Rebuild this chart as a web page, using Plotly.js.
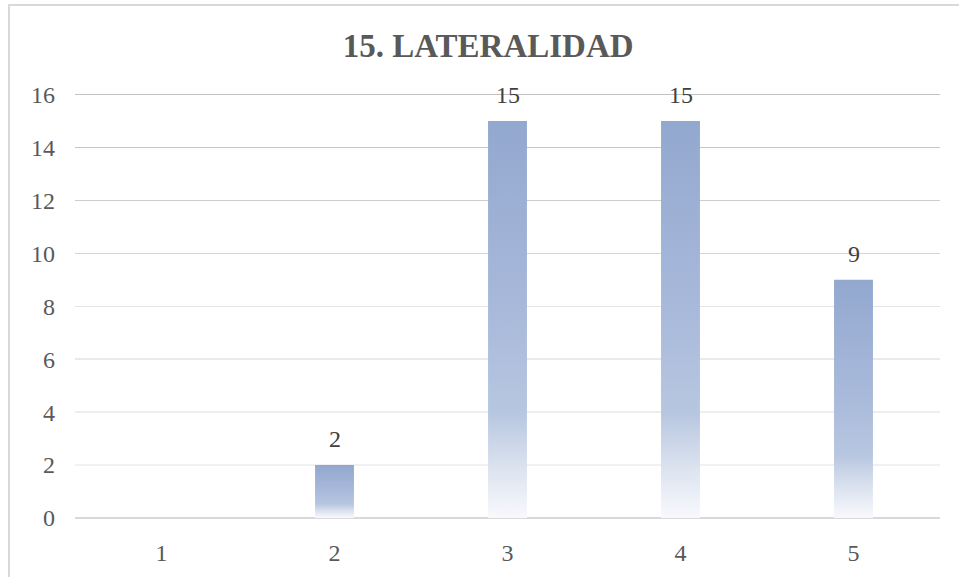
<!DOCTYPE html>
<html>
<head>
<meta charset="utf-8">
<script src="https://cdn.plot.ly/plotly-3.0.1.min.js"></script>
<style>
  html, body { margin: 0; padding: 0; background: #ffffff; }
  #frame { position: absolute; left: 8px; top: 4px; width: 960px; height: 580px;
           border-left: 2px solid #d9d9d9; border-top: 2px solid #d9d9d9; box-sizing: border-box; }
  #chart { position: absolute; left: 0; top: 0; width: 959px; height: 577px; }
</style>
</head>
<body>
<div id="frame"></div>
<div id="chart"></div>
<script>
// ---- data ----
const titleText = "15. LATERALIDAD";
const categories = ["1", "2", "3", "4", "5"];
const counts = [0, 2, 15, 15, 9];
const yTickValues = [0, 2, 4, 6, 8, 10, 12, 14, 16];

// ---- styles ----
const serif = "Liberation Serif";
const gridColors = ["#d9d9d9", "#f1f1f1", "#eeeeee", "#eaeaea", "#e4e4e4", "#d6d6d6", "#cdcdcd", "#c7c7c7", "#c2c2c2"];

const trace = {
  type: "bar",
  x: categories,
  y: counts,
  marker: { color: "#93a8cf", line: { width: 0 } },
  hoverinfo: "x+y"
};

// data labels above bars (value 0 has no label); x is the category index
const labelAnnotations = counts
  .map((v, i) => ({ i, v }))
  .filter(d => d.v)
  .map(d => ({
    x: d.i, y: d.v, xref: "x", yref: "y",
    text: String(d.v), showarrow: false,
    xanchor: "center", yanchor: "bottom", yshift: 11,
    font: { family: serif, size: 24, color: "#404040" }
  }));

const layout = {
  width: 959,
  height: 577,
  margin: { l: 75, r: 19, t: 92, b: 59 },
  font: { family: serif },
  paper_bgcolor: "rgba(0,0,0,0)",
  plot_bgcolor: "rgba(0,0,0,0)",
  showlegend: false,
  bargap: 0.775,
  annotations: labelAnnotations,
  title: {
    text: titleText,
    font: { family: serif, size: 33, color: "#595959", weight: "bold" },
    xref: "container", x: 0.509, xanchor: "center",
    yref: "container", y: 1 - 45 / 577, yanchor: "middle"
  },
  xaxis: {
    type: "category",
    categoryarray: categories,
    showgrid: false,
    showline: false,
    zeroline: false,
    ticks: "",
    ticklabelstandoff: 18,
    tickfont: { family: serif, size: 24, color: "#595959" }
  },
  yaxis: {
    range: [0, 16.1],
    tickvals: yTickValues,
    ticktext: yTickValues.map(String),
    showgrid: true,
    gridcolor: "#d9d9d9",
    gridwidth: 1.5,
    zeroline: true,
    zerolinecolor: "#d9d9d9",
    zerolinewidth: 2,
    showline: false,
    ticks: "",
    ticklabelstandoff: 19,
    tickfont: { family: serif, size: 24, color: "#595959" }
  }
};

Plotly.newPlot("chart", [trace], layout, { displayModeBar: false, staticPlot: true }).then(gd => {
  const svg = gd.querySelector("svg.main-svg");
  const NS = "http://www.w3.org/2000/svg";
  let defs = svg.querySelector("defs");
  if (!defs) { defs = document.createElementNS(NS, "defs"); svg.insertBefore(defs, svg.firstChild); }
  const grad = document.createElementNS(NS, "linearGradient");
  grad.setAttribute("id", "barGrad");
  grad.setAttribute("x1", "0"); grad.setAttribute("y1", "0");
  grad.setAttribute("x2", "0"); grad.setAttribute("y2", "1");
  [["0", "#93a8cf"], ["0.5", "#a9badb"], ["0.74", "#b8c7e0"], ["0.88", "#dde4f0"], ["1", "#f8f9fc"]].forEach(([o, c]) => {
    const s = document.createElementNS(NS, "stop");
    s.setAttribute("offset", o); s.setAttribute("stop-color", c);
    grad.appendChild(s);
  });
  defs.appendChild(grad);
  gd.querySelectorAll(".bars .point path").forEach(p => { p.style.fill = "url(#barGrad)"; });
  gd.querySelectorAll("path.ygrid").forEach(p => {
    const d = p.__data__;
    if (d && typeof d.x === "number") {
      const idx = Math.round(d.x / 2);
      if (gridColors[idx]) p.style.stroke = gridColors[idx];
    }
  });
});
</script>
</body>
</html>
